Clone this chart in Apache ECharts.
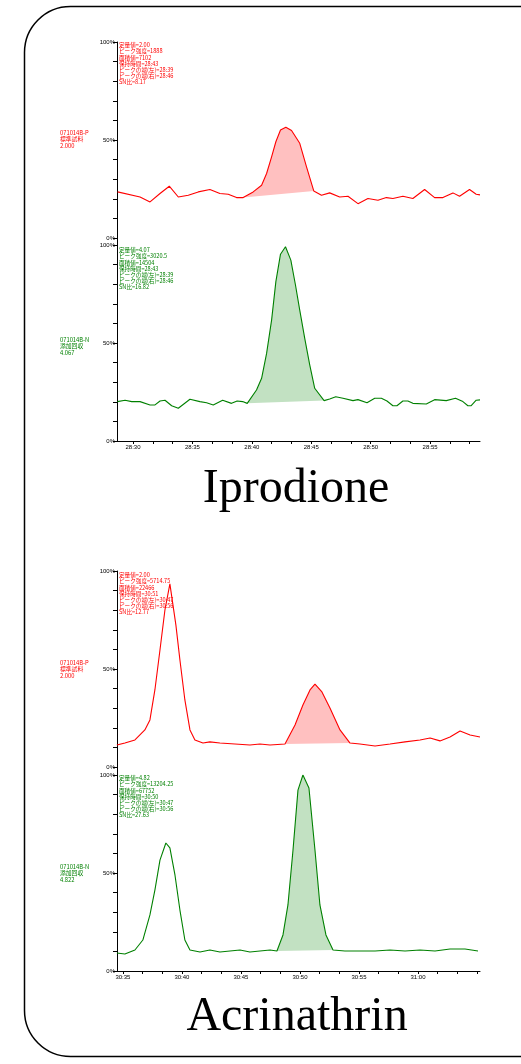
<!DOCTYPE html>
<html>
<head>
<meta charset="utf-8">
<style>
  html, body { margin: 0; padding: 0; background: #fff; }
  #chart { width: 521px; height: 1064px; }
</style>
<script src="https://cdn.jsdelivr.net/npm/echarts@6.0.0/dist/echarts.min.js"></script>
</head>
<body>
<div id="chart"></div>
<script>
// time in seconds (28:30 = 1710 s), intensity in %
const iproRedT = [1708.7, 1710.59, 1711.43, 1712.27, 1713.05, 1713.81, 1714.65, 1715.49, 1716.47, 1717.31, 1718.01, 1718.71, 1719.27, 1720.11, 1720.82, 1721.24, 1721.66, 1722.02, 1722.41, 1722.86, 1723.34, 1724.03, 1724.6, 1725.21, 1725.86, 1726.55, 1727.39, 1728.09, 1728.93, 1729.77, 1730.61, 1731.32, 1731.87, 1732.71, 1733.55, 1734.54, 1735.38, 1736.08, 1736.92, 1737.48, 1738.32, 1738.88, 1739.2]
const iproRedV = [23.5, 20.9, 18.4, 22.7, 26.4, 20.9, 21.8, 23.5, 24.7, 22.7, 22.3, 20.6, 20.6, 23.5, 26.9, 32.9, 41.4, 49.1, 55.1, 56.5, 54.8, 48.3, 36.3, 24.0, 21.8, 23.0, 20.9, 21.3, 17.5, 20.1, 19.2, 20.6, 20.1, 21.3, 20.1, 24.7, 20.6, 20.6, 23.0, 21.3, 24.7, 22.3, 22.0]
const iproRedPeak = [1719.27, 1725.21]

const iproGreenT = [1708.68, 1709.33, 1709.89, 1710.59, 1711.43, 1711.85, 1712.27, 1712.69, 1713.25, 1713.81, 1714.79, 1715.63, 1716.19, 1716.75, 1717.54, 1718.29, 1718.76, 1719.22, 1719.61, 1720.39, 1720.82, 1721.24, 1721.66, 1722.02, 1722.41, 1722.83, 1723.28, 1723.67, 1724.03, 1724.45, 1724.87, 1725.29, 1726.08, 1726.55, 1727.06, 1727.67, 1728.51, 1728.93, 1729.69, 1730.34, 1730.9, 1731.37, 1731.87, 1732.21, 1732.71, 1733.13, 1733.55, 1734.68, 1735.38, 1736.36, 1737.14, 1737.76, 1738.18, 1738.46, 1738.88, 1739.2]
const iproGreenV = [20.1, 20.8, 20.1, 20.1, 18.4, 18.4, 20.4, 20.8, 18.0, 16.7, 21.3, 20.1, 19.5, 18.4, 20.8, 19.2, 20.4, 20.1, 19.2, 26.0, 32.0, 44.7, 61.7, 81.3, 95.3, 99.1, 92.3, 79.6, 66.8, 52.4, 38.8, 26.9, 20.6, 21.4, 22.6, 21.8, 20.6, 21.1, 19.5, 21.8, 21.8, 20.4, 18.0, 18.0, 20.4, 20.4, 19.2, 18.9, 21.1, 20.6, 21.8, 20.1, 18.0, 18.0, 20.8, 21.0]
const iproGreenPeak = [1719.61, 1726.08]

const acriRedT = [1834.49, 1835.17, 1836.02, 1836.86, 1837.29, 1837.71, 1838.14, 1838.56, 1838.98, 1839.49, 1839.83, 1840.25, 1840.68, 1841.1, 1841.78, 1842.37, 1843.22, 1844.49, 1845.76, 1846.61, 1847.46, 1848.73, 1849.58, 1850.25, 1850.85, 1851.27, 1851.86, 1852.54, 1853.39, 1854.24, 1855.08, 1856.36, 1857.63, 1858.9, 1860.17, 1861.02, 1861.86, 1862.71, 1863.56, 1864.41, 1865.25]
const acriRedV = [11.2, 12.2, 13.8, 18.9, 24.0, 39.3, 59.7, 80.1, 93.4, 72.4, 54.6, 34.2, 18.9, 13.8, 12.2, 12.8, 12.2, 11.7, 11.2, 11.7, 11.2, 11.7, 21.4, 31.6, 39.3, 42.3, 38.3, 30.1, 18.9, 12.2, 11.7, 10.7, 11.7, 12.8, 13.8, 14.8, 13.3, 15.3, 18.4, 16.3, 15.3]
const acriRedPeak = [1848.73, 1854.24]

const acriGreenT = [1834.49, 1835.17, 1836.02, 1836.69, 1837.29, 1837.71, 1838.14, 1838.64, 1838.98, 1839.41, 1839.83, 1840.25, 1840.68, 1841.53, 1842.37, 1843.22, 1844.07, 1844.92, 1845.76, 1846.61, 1847.46, 1848.05, 1848.56, 1848.98, 1849.41, 1849.83, 1850.25, 1850.76, 1851.27, 1851.69, 1852.2, 1852.8, 1853.81, 1855.08, 1856.36, 1857.63, 1858.9, 1860.17, 1861.44, 1862.71, 1863.98, 1865.08]
const acriGreenV = [9.2, 8.7, 10.7, 15.8, 28.6, 41.3, 56.6, 65.3, 62.8, 49.0, 31.1, 15.8, 10.7, 9.7, 10.7, 9.7, 10.2, 10.7, 9.7, 10.2, 10.7, 10.2, 18.4, 33.7, 61.7, 92.3, 100, 93.4, 61.7, 33.7, 18.4, 10.7, 10.2, 10.2, 10.2, 10.7, 10.2, 10.7, 10.2, 11.2, 11.2, 10.2]
const acriGreenPeak = [1848.05, 1852.8]

const yTicks = [0, 10, 20, 30, 40, 50, 60, 70, 80, 90, 100]
const yLabels = [0, 50, 100]
const iproLabels = [1710, 1715, 1720, 1725, 1730, 1735]
const acriLabels = [1835, 1840, 1845, 1850, 1855, 1860]

const panelInfo = [
  '定量値=2.00\nピーク強度=1888\n面積値=7102\n保持時間=28:43\nピークの端(左)=28:39\nピークの端(右)=28:46\nSN比=8.17',
  '定量値=4.07\nピーク強度=3020.5\n面積値=14504\n保持時間=28:43\nピークの端(左)=28:39\nピークの端(右)=28:46\nSN比=16.82',
  '定量値=2.00\nピーク強度=5714.75\n面積値=22466\n保持時間=30:51\nピークの端(左)=30:47\nピークの端(右)=30:56\nSN比=12.77',
  '定量値=4.82\nピーク強度=13204.25\n面積値=67752\n保持時間=30:50\nピークの端(左)=30:47\nピークの端(右)=30:56\nSN比=27.63'
]
const sampleInfo = [
  '071014B-P\n標準試料\n2.000',
  '071014B-N\n添加回収\n4.067',
  '071014B-P\n標準試料\n2.000',
  '071014B-N\n添加回収\n4.822'
]
const titles = ['Iprodione', 'Acrinathrin']

const RED = '#ff0000', GREEN = '#008000'
const PINK = '#ffc0c0', LGREEN = '#c2e1c2'
const cjk = '"Noto Sans CJK JP", "Liberation Sans", sans-serif'

const mmss = v => Math.floor(v / 60) + ':' + String(Math.round(v % 60)).padStart(2, '0')

// minor ticks every 5/3 s
const tickList = (from, to) => {
  const out = []
  for (let v = from; v <= to + 1e-6; v += 5 / 3) out.push(+v.toFixed(3))
  return out
}

const grids = [
  { left: 117, right: 41, top: 42, height: 203 },
  { left: 117, right: 41, top: 245, height: 196 },
  { left: 117, right: 41, top: 571, height: 204 },
  { left: 117, right: 41, top: 775, height: 196 }
]
const yMins = [-3.6, 0, -4.1, 0]

const xRange = [[1708.65, 1739.2], [1708.65, 1739.2], [1834.5, 1865.25], [1834.5, 1865.25]]
const xLabelSets = [iproLabels, iproLabels, acriLabels, acriLabels]

const xAxes = grids.map((g, i) => ({
  type: 'value',
  gridIndex: i,
  min: xRange[i][0],
  max: xRange[i][1],
  show: i % 2 === 1,
  axisLine: { onZero: false, lineStyle: { color: '#000', width: 1 } },
  axisTick: { show: true, length: 3, customValues: tickList(xLabelSets[i][0], xRange[i][1]), lineStyle: { color: '#000' } },
  axisLabel: { customValues: xLabelSets[i], formatter: mmss, fontSize: 6, color: '#000', margin: 3, fontFamily: 'Liberation Sans' },
  splitLine: { show: false }
}))

const yAxes = grids.map((g, i) => ({
  type: 'value',
  gridIndex: i,
  min: yMins[i],
  max: 100,
  axisLine: { show: true, lineStyle: { color: '#000', width: 1 } },
  axisTick: { show: true, length: 4, customValues: yTicks, lineStyle: { color: '#000' } },
  axisLabel: { customValues: yLabels, formatter: '{value}%', fontSize: 6, color: '#000', margin: 2, fontFamily: 'Liberation Sans' },
  splitLine: { show: false }
}))

const traces = [
  { t: iproRedT, v: iproRedV, peak: iproRedPeak, line: RED, fill: PINK },
  { t: iproGreenT, v: iproGreenV, peak: iproGreenPeak, line: GREEN, fill: LGREEN },
  { t: acriRedT, v: acriRedV, peak: acriRedPeak, line: RED, fill: PINK },
  { t: acriGreenT, v: acriGreenV, peak: acriGreenPeak, line: GREEN, fill: LGREEN }
]

const series = []
traces.forEach((tr, i) => {
  const pts = tr.t.map((t, k) => [t, tr.v[k]])
  const seg = pts.filter(p => p[0] >= tr.peak[0] - 1e-6 && p[0] <= tr.peak[1] + 1e-6)
  // peak area: curve from start to end, closed by the straight baseline
  series.push({
    type: 'custom',
    xAxisIndex: i,
    yAxisIndex: i,
    z: 1,
    silent: true,
    data: seg,
    renderItem: (params, api) => {
      if (params.dataIndex !== 0) return null
      return {
        type: 'polygon',
        shape: { points: seg.map(p => api.coord(p)) },
        style: { fill: tr.fill, stroke: null }
      }
    }
  })
  series.push({
    type: 'line',
    xAxisIndex: i,
    yAxisIndex: i,
    z: 3,
    showSymbol: false,
    symbol: 'none',
    silent: true,
    lineStyle: { color: tr.line, width: 1.1 },
    data: pts
  })
})

const infoTop = [42, 247, 572, 775]
const sampleTop = [129, 336, 659, 863]
const graphic = [
  {
    type: 'rect', z: 0,
    shape: { x: 24.5, y: 6.5, width: 560, height: 1050, r: 46 },
    style: { fill: 'none', stroke: '#000', lineWidth: 1.5 }
  }
]
for (let i = 0; i < 4; i++) {
  const col = i % 2 === 0 ? RED : GREEN
  graphic.push({
    type: 'text', z: 10,
    style: { x: 119, y: infoTop[i], text: panelInfo[i], fill: col, font: '5.6px ' + cjk, lineHeight: 6.2 }
  })
  graphic.push({
    type: 'text', z: 10,
    style: { x: 60, y: sampleTop[i], text: sampleInfo[i], fill: col, font: '5.8px ' + cjk, lineHeight: 6.6 }
  })
}
graphic.push({
  type: 'text', z: 10,
  style: { x: 296, y: 465, text: titles[0], fill: '#000', font: '48px "Liberation Serif", "Times New Roman", serif', textAlign: 'center' }
})
graphic.push({
  type: 'text', z: 10,
  style: { x: 297, y: 993, text: titles[1], fill: '#000', font: '48px "Liberation Serif", "Times New Roman", serif', textAlign: 'center' }
})

const chart = echarts.init(document.getElementById('chart'))
chart.setOption({
  animation: false,
  backgroundColor: '#fff',
  grid: grids,
  xAxis: xAxes,
  yAxis: yAxes,
  series: series,
  graphic: graphic
})
</script>
</body>
</html>
